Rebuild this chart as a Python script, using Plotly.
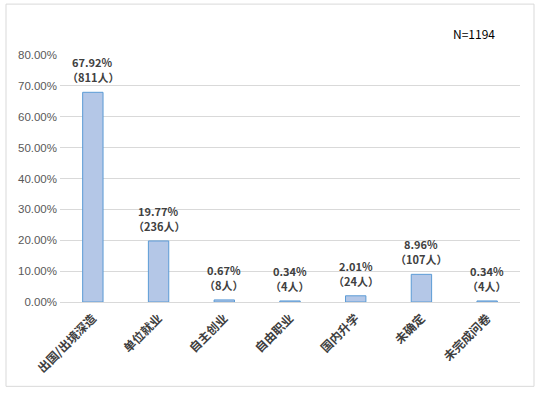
import plotly.graph_objects as go

categories = ["出国/出境深造", "单位就业", "自主创业", "自由职业", "国内升学", "未确定", "未完成问卷"]
percents = [67.92, 19.77, 0.67, 0.34, 2.01, 8.96, 0.34]
counts = [811, 236, 8, 4, 24, 107, 4]
tick_vals = [0, 10, 20, 30, 40, 50, 60, 70, 80]
tick_text = ["0.00%", "10.00%", "20.00%", "30.00%", "40.00%", "50.00%", "60.00%", "70.00%", "80.00%"]
total_n = 1194

W, H = 545, 393
L, R, T, B = 60, 25, 55, 90.5
pw, ph = W - L - R, H - T - B

fig = go.Figure()
fig.add_trace(go.Bar(
    x=categories, y=percents,
    marker=dict(color="#B4C7E7", line=dict(color="#5B9BD5", width=1)),
    width=0.31,
    hoverinfo="skip",
))

label_font = dict(family="Noto Sans CJK SC", size=11, color="#404040", weight="bold")
for c, p, n in zip(categories, percents, counts):
    fig.add_annotation(
        x=c, y=p, xref="x", yref="y",
        text=f"（{n}人）",
        showarrow=False, yanchor="middle", yshift=15,
        font=label_font,
    )
    fig.add_annotation(
        x=c, y=p, xref="x", yref="y",
        text=f"{p:.2f}%",
        showarrow=False, yanchor="middle", yshift=30,
        font=label_font,
    )

fig.add_annotation(
    x=(497 - L) / pw, y=(T + ph - 33) / ph, xref="paper", yref="paper",
    text=f"N={total_n}", showarrow=False, xanchor="right", yanchor="middle",
    font=dict(family="Noto Sans CJK SC", size=12, color="#000000"),
)

fig.add_shape(
    type="rect", xref="paper", yref="paper",
    x0=(6 - L) / pw, x1=(534 - L) / pw,
    y0=(T + ph - 387) / ph, y1=(T + ph - 4) / ph,
    line=dict(color="#D9D9D9", width=1), fillcolor="rgba(0,0,0,0)", layer="below",
)

fig.update_layout(
    width=W, height=H,
    margin=dict(l=L, r=R, t=T, b=B, autoexpand=False),
    paper_bgcolor="white", plot_bgcolor="white",
    showlegend=False,
    bargap=0.69,
    font=dict(family="Noto Sans CJK SC"),
)
fig.update_yaxes(
    range=[0, 80], tickvals=tick_vals, ticktext=tick_text,
    showgrid=True, gridcolor="#D9D9D9", gridwidth=1,
    zeroline=True, zerolinecolor="#D9D9D9", zerolinewidth=1,
    showline=False, ticks="", automargin=False,
    ticklabelstandoff=2,
    tickfont=dict(family="Liberation Sans", size=11.5, color="#595959"),
)
fig.update_xaxes(
    tickangle=-45, showgrid=False, showline=False, ticks="", automargin=False,
    ticklabelstandoff=6,
    tickfont=dict(family="Noto Sans CJK SC", size=12, color="#404040", weight="bold"),
)

fig.write_html("out.html", config={"displayModeBar": False},
               post_script="document.body.style.margin='0';")
